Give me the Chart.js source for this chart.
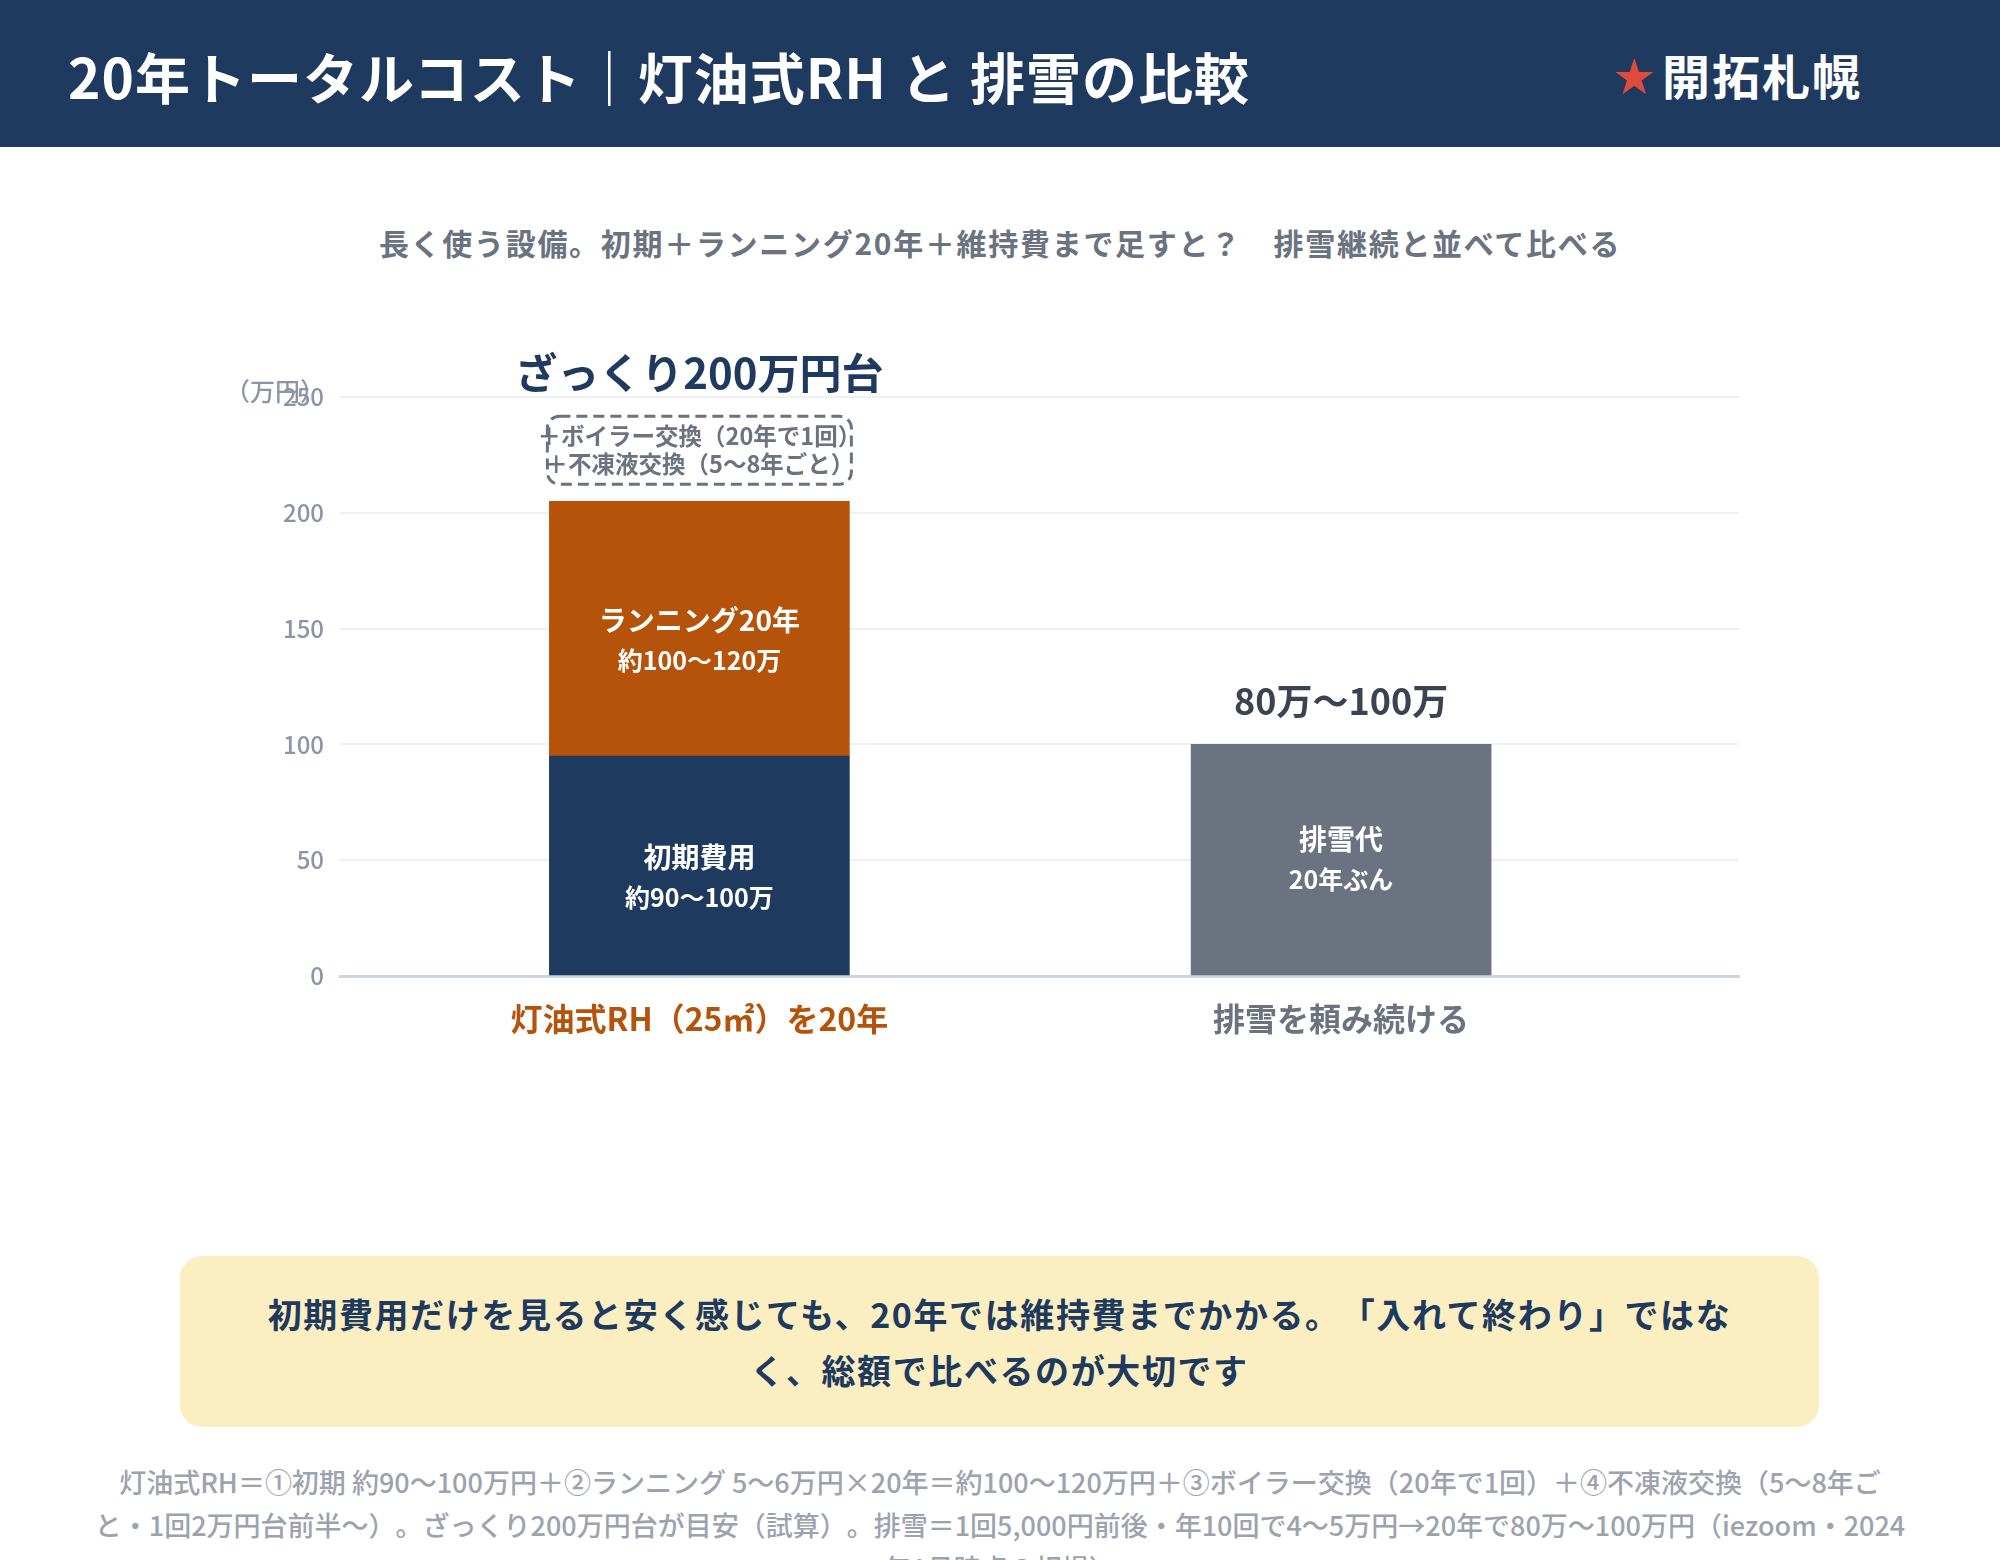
<!DOCTYPE html>
<html lang="ja">
<head>
<meta charset="utf-8">
<title>20年トータルコスト｜灯油式RH と 排雪の比較</title>
<script src="https://cdn.jsdelivr.net/npm/chart.js@4.4.1/dist/chart.umd.min.js"></script>
<style>
  html, body { margin: 0; padding: 0; }
  body {
    width: 2000px; height: 1560px; overflow: hidden; position: relative;
    background: #ffffff;
    font-family: "Noto Sans CJK JP", "Noto Sans", sans-serif;
    text-spacing-trim: space-all;
  }
  .header {
    position: absolute; left: 0; top: 0; width: 2000px; height: 147px;
    background: #1f3a5f;
  }
  .header h1 {
    position: absolute; left: 68px; top: 0; margin: 0;
    line-height: 150px; font-size: 55px; font-weight: 700; color: #ffffff;
    letter-spacing: 1px;
  }
  .brand {
    position: absolute; right: 138px; top: 0; line-height: 148px;
    font-size: 48px; font-weight: 600; color: #ffffff; letter-spacing: 2px;
  }
  .brand .star { color: #e14b3b; font-size: 40px; margin-right: 6px; vertical-align: 4px; }
  .subtitle {
    position: absolute; left: 0; top: 222px; width: 2000px; text-align: center;
    font-size: 30px; font-weight: 700; color: #6b7280; line-height: 40px; letter-spacing: 1.7px;
  }
  .chart-box { position: absolute; left: 0; top: 300px; width: 2000px; height: 780px; }
  .callout {
    position: absolute; left: 180px; top: 1256px; width: 1639px; height: 171px;
    background: #fbeec0; border-radius: 22px;
    display: flex; align-items: center; justify-content: center; text-align: center;
    font-size: 34px; font-weight: 700; color: #1f3a5f; line-height: 56px; letter-spacing: 1.6px;
  }
  .footnote {
    position: absolute; left: 0; top: 1460px; width: 2000px; text-align: center; white-space: nowrap;
    font-size: 27px; font-weight: 500; color: #9ca3af; line-height: 43px;
  }
</style>
</head>
<body>
<div class="header">
  <h1>20年トータルコスト｜灯油式RH と 排雪の比較</h1>
  <div class="brand"><span class="star">★</span>開拓札幌</div>
</div>
<div class="subtitle">長く使う設備。初期＋ランニング20年＋維持費まで足すと？　排雪継続と並べて比べる</div>
<div class="chart-box"><canvas id="chart"></canvas></div>
<div class="callout">初期費用だけを見ると安く感じても、20年では維持費までかかる。「入れて終わり」ではな<br>く、総額で比べるのが大切です</div>
<div class="footnote">灯油式RH＝①初期 約90〜100万円＋②ランニング 5〜6万円×20年＝約100〜120万円＋③ボイラー交換（20年で1回）＋④不凍液交換（5〜8年ご<br>と・1回2万円台前半〜）。ざっくり200万円台が目安（試算）。排雪＝1回5,000円前後・年10回で4〜5万円→20年で80万〜100万円（iezoom・2024<br>年1月時点の相場）</div>

<script>
// data (万円)
const categories = ['灯油式RH（25㎡）を20年', '排雪を頼み続ける'];
const initialCost = [95, null];
const running20y = [110, null];
const snowRemoval = [null, 100];
const yTicks = [0, 50, 100, 150, 200, 250];

const initialLabel = ['初期費用', '約90〜100万'];
const runningLabel = ['ランニング20年', '約100〜120万'];
const snowLabel = ['排雪代', '20年ぶん'];
const totalNote = 'ざっくり200万円台';
const extraItems = ['＋ボイラー交換（20年で1回）', '＋不凍液交換（5〜8年ごと）'];
const snowRange = '80万〜100万';
const unitLabel = '（万円）';

const NAVY = '#1f3a5f', ORANGE = '#b45309', SLATE = '#6b7280';
const FONT = '"Noto Sans CJK JP", "Noto Sans", sans-serif';

function toPoints(arr){
	return arr.map(function(v, i){ return {x: i, y: v}; }).filter(function(p){ return p.y !== null; });
}

// writes the two-line labels inside each bar segment
const segmentText = {
	id: 'segmentText',
	afterDatasetsDraw: function(chart){
		const ctx = chart.ctx;
		chart.data.datasets.forEach(function(ds, d){
			const meta = chart.getDatasetMeta(d);
			meta.data.forEach(function(bar){
				const mid = (bar.y + bar.base) / 2 + (ds.labelShift || 0);
				ctx.save();
				ctx.fillStyle = '#ffffff';
				ctx.textAlign = 'center';
				ctx.textBaseline = 'middle';
				ctx.font = '700 28px ' + FONT;
				ctx.fillText(ds.lines[0], bar.x, mid - 20);
				ctx.font = '700 25px ' + FONT;
				ctx.fillText(ds.lines[1], bar.x, mid + 20);
				ctx.restore();
			});
		});
	}
};

// notes above the bars + axis unit
const notes = {
	id: 'notes',
	afterDraw: function(chart){
		const ctx = chart.ctx;
		const area = chart.chartArea;
		const top1 = chart.getDatasetMeta(1).data[0];
		const top2 = chart.getDatasetMeta(2).data[0];
		ctx.save();
		ctx.textAlign = 'center';
		ctx.textBaseline = 'middle';

		// total estimate for the RH column
		ctx.fillStyle = NAVY;
		ctx.font = '700 42px ' + FONT;
		ctx.fillText(totalNote, top1.x, top1.y - 128);

		// dashed box with extra maintenance items
		const w = top1.width + 4, h = 68;
		const bx = top1.x - w / 2, by = top1.y - 17 - h;
		ctx.strokeStyle = SLATE;
		ctx.lineWidth = 3;
		ctx.setLineDash([11, 6]);
		ctx.beginPath();
		ctx.roundRect(bx, by, w, h, 12);
		ctx.stroke();
		ctx.setLineDash([]);
		ctx.fillStyle = SLATE;
		ctx.font = '700 23.5px ' + FONT;
		ctx.fillText(extraItems[0], top1.x, by + 20);
		ctx.fillText(extraItems[1], top1.x, by + 48);

		// range above snow column
		ctx.fillStyle = '#3a4352';
		ctx.font = '700 36px ' + FONT;
		ctx.fillText(snowRange, top2.x, top2.y - 43);

		// unit
		ctx.fillStyle = '#8b95a5';
		ctx.font = '500 25px ' + FONT;
		ctx.textAlign = 'right';
		ctx.fillText(unitLabel, area.left - 15, area.top - 6);
		ctx.restore();
	}
};

new Chart(document.getElementById('chart'), {
	type: 'bar',
	data: {
		datasets: [
			{label: '初期費用', data: toPoints(initialCost), backgroundColor: NAVY, lines: initialLabel, labelShift: 12},
			{label: 'ランニング20年', data: toPoints(running20y), backgroundColor: ORANGE, lines: runningLabel, labelShift: 12},
			{label: '排雪代', data: toPoints(snowRemoval), backgroundColor: SLATE, lines: snowLabel, labelShift: 0}
		]
	},
	options: {
		responsive: true,
		maintainAspectRatio: false,
		animation: false,
		barThickness: 300,
		layout: {padding: {top: 97, right: 261, left: 0, bottom: 0}},
		plugins: {legend: {display: false}, tooltip: {enabled: false}},
		scales: {
			x: {
				type: 'linear',
				stacked: true,
				offset: false,
				min: -0.56,
				max: 1.62,
				afterBuildTicks: function(scale){ scale.ticks = categories.map(function(c, i){ return {value: i}; }); },
				afterFit: function(scale){ scale.height = 104; },
				grid: {display: false, drawTicks: false},
				border: {display: true, color: '#cbd5e1', width: 3},
				ticks: {
					padding: 24,
					autoSkip: false,
					maxRotation: 0,
					callback: function(v){ return categories[v]; },
					color: function(c){ return c.index === 0 ? ORANGE : SLATE; },
					font: {family: FONT, size: 32, weight: '700'}
				}
			},
			y: {
				stacked: true,
				min: 0,
				max: 250,
				afterBuildTicks: function(scale){ scale.ticks = yTicks.map(function(v){ return {value: v}; }); },
				afterFit: function(scale){ scale.width = 340; },
				grid: {color: '#eef0f4', lineWidth: 2, drawTicks: false},
				border: {display: false},
				ticks: {
					padding: 16,
					color: '#8b95a5',
					font: {family: FONT, size: 24, weight: '500'}
				}
			}
		}
	},
	plugins: [segmentText, notes]
});
</script>
</body>
</html>
